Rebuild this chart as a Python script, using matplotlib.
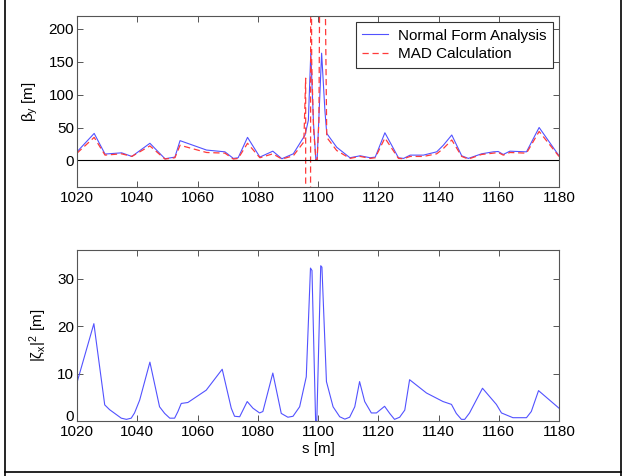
import matplotlib
matplotlib.use('Agg')
import matplotlib.pyplot as plt
from matplotlib.lines import Line2D
from matplotlib.transforms import ScaledTranslation

plt.rcParams['font.family'] = ['Liberation Sans', 'DejaVu Sans']
plt.rcParams['mathtext.fontset'] = 'custom'
plt.rcParams['mathtext.rm'] = 'Liberation Sans'
plt.rcParams['mathtext.it'] = 'Liberation Sans'

# beta_y, normal form analysis
s_nf = [1020, 1025.7, 1029.3, 1034.8, 1038.2, 1044.2, 1049.2, 1052.5, 1054.2,
        1063, 1069.1, 1071.9, 1073.5, 1076.6, 1080.7, 1085, 1088, 1091.8,
        1095.7, 1096.8, 1097.6, 1098.5, 1099.3, 1099.7, 1100.3, 1101.2,
        1102.3, 1102.9, 1106.2, 1110.6, 1114, 1117.3, 1119, 1122.2, 1126.7,
        1128.4, 1130.6, 1135, 1139.4, 1141.6, 1144.4, 1147.7, 1149.9, 1154.3,
        1158.2, 1159.8, 1161.5, 1163.7, 1169.2, 1173.4, 1180]
beta_nf = [13, 41, 9.6, 11.5, 6, 26, 2.5, 5, 30,
           15.7, 13, 3, 4, 35, 5, 14, 2.5, 10,
           38.6, 61, 163, 57, 0, 0, 66, 163,
           75, 41, 20, 4, 7, 4, 5, 42, 4,
           3, 8, 8, 13, 23, 38.6, 7, 3, 10,
           13, 13.5, 9, 14, 13, 50, 7]

# beta_y, MAD calculation
s_mad = [1020, 1025.7, 1029.3, 1034.8, 1038.2, 1044.2, 1049.2, 1052.5, 1054.2,
         1063, 1069.1, 1071.9, 1073.5, 1076.6, 1080.7, 1085, 1088, 1091.8,
         1095.3, 1095.9, 1095.9, 1097.5, 1097.6, 1097.9, 1098.5, 1099.3,
         1099.7, 1100.3, 1101.0, 1101.6, 1102.9, 1106.2, 1110.6, 1114, 1117.3,
         1119, 1122.2, 1126.7, 1128.4, 1130.6, 1135, 1139.4, 1141.6, 1144.4,
         1147.7, 1149.9, 1154.3, 1158.2, 1159.8, 1161.5, 1163.7, 1169.2,
         1173.4, 1180]
beta_mad = [11, 35, 8, 10, 6, 22, 2, 4, 23,
            12, 11, 2, 3, 26, 4, 10, 2, 7,
            28, 125, -300, -300, 600, 150, 50, 0,
            0, 60, 600, 600, 35, 15, 3, 6, 3,
            4, 34, 3, 2.5, 6, 6, 10, 18, 31,
            6, 2, 9, 11, 12, 8, 12, 11,
            44, 6]

# |zeta_x|^2
s_z = [1020, 1025.6, 1029.2, 1030.8, 1034.7, 1036.4, 1038, 1039.1, 1040.8,
       1044.2, 1047.4, 1049.1, 1050.8, 1052.4, 1053.5, 1054.6, 1056.8, 1062.9,
       1068.2, 1071.2, 1072.3, 1074, 1076.5, 1078.4, 1080.6, 1081.7, 1085,
       1087.8, 1090, 1091.7, 1093.9, 1096.1, 1097.5, 1098, 1099.2, 1099.6,
       1100.9, 1101.3, 1102.8, 1105, 1107.2, 1108.9, 1110.5, 1112.2, 1113.8,
       1115.5, 1117.7, 1119.4, 1122.1, 1123.8, 1125.4, 1127.1, 1128.8, 1130.4,
       1136, 1141.5, 1144.3, 1145.9, 1147.6, 1148.7, 1150.3, 1154.6, 1159.2,
       1160.9, 1164.7, 1169.2, 1170.8, 1173.2, 1180]
zeta_sq = [8.1, 20.5, 3.4, 2.4, 0.6, 0.35, 0.6, 1.7, 4.4,
           12.4, 3, 1.6, 0.6, 0.6, 2, 3.7, 3.9, 6.5,
           10.9, 2.7, 1, 0.9, 4.1, 2.7, 1.7, 2, 10.1,
           1.6, 0.8, 1, 3, 9.3, 32.2, 31.7, 0, 0,
           32.7, 32.4, 8.3, 3, 0.9, 0.4, 0.8, 3, 8.3,
           4.1, 1.7, 1.7, 3.1, 1.6, 0.35, 0.8, 2.3, 8.7,
           5.9, 4.1, 3.5, 1.6, 0.35, 0.35, 1.7, 6.9, 3.5,
           1.7, 0.7, 0.7, 2, 6.4, 2.7]

x_ticks = list(range(1020, 1181, 20))
beta_ticks = [0, 50, 100, 150, 200]
zeta_ticks = [0, 10, 20, 30]

BLUE = '#5252ff'
RED = '#ff3a3a'
SPINE = '#555555'
FS = 11


def style_ax(ax):
    for sp in ax.spines.values():
        sp.set_color(SPINE)
        sp.set_linewidth(0.8)
    ax.tick_params(direction='in', top=True, right=True, length=4,
                   width=0.7, color=SPINE, labelsize=FS)
    ax.tick_params(axis='x', pad=3)
    ax.tick_params(axis='y', pad=2)
    ax.set_xlim(1020, 1180)
    ax.set_xticks(x_ticks)


fig = plt.figure(figsize=(6.23, 4.76), dpi=100)

ax1 = fig.add_axes([0.1236, 0.6078, 0.7737, 0.3592])
ax1.plot(s_nf, beta_nf, color=BLUE, linewidth=0.8, label='Normal Form Analysis')
ax1.plot(s_mad, beta_mad, color=RED, linewidth=0.9, linestyle=(0, (5, 3)),
         label='MAD Calculation')
ax1.axhline(0, color='black', linewidth=0.8)
style_ax(ax1)
ax1.set_ylim(-40, 220)
ax1.set_yticks(beta_ticks)
ax1.set_ylabel(r'$\beta_y$ [m]', fontsize=FS, labelpad=6)
leg = ax1.legend(loc='upper right', fontsize=FS, fancybox=False,
                 framealpha=1, borderaxespad=0.4, handlelength=1.7,
                 handletextpad=0.6, borderpad=0.45, labelspacing=0.3)
leg.get_frame().set_edgecolor('#333333')
leg.get_frame().set_linewidth(0.8)

ax2 = fig.add_axes([0.1236, 0.1155, 0.7737, 0.3592])
ax2.plot(s_z, zeta_sq, color=BLUE, linewidth=0.8)
style_ax(ax2)
ax2.set_ylim(0, 36)
ax2.set_yticks(zeta_ticks)
ax2.set_ylabel(r'$|\zeta_x|^2$ [m]', fontsize=FS, labelpad=6)
ax2.set_xlabel('s [m]', fontsize=FS, labelpad=2)
# lift the "0" label a little, as in the original
fig.canvas.draw()
zero_lbl = ax2.get_yticklabels()[0]
zero_lbl.set_transform(zero_lbl.get_transform() +
                       ScaledTranslation(0, 4 / 72, fig.dpi_scale_trans))

# frame around the figure
for xs, ys in [([0.008, 0.008], [0.0, 1.0]), ([0.008, 0.997], [0.009, 0.009]),
               ([0.997, 0.997], [0.0, 1.0])]:
    fig.add_artist(Line2D(xs, ys, color='black', linewidth=1.2,
                          transform=fig.transFigure))

fig.savefig('out.png', dpi=100)
plt.close(fig)
